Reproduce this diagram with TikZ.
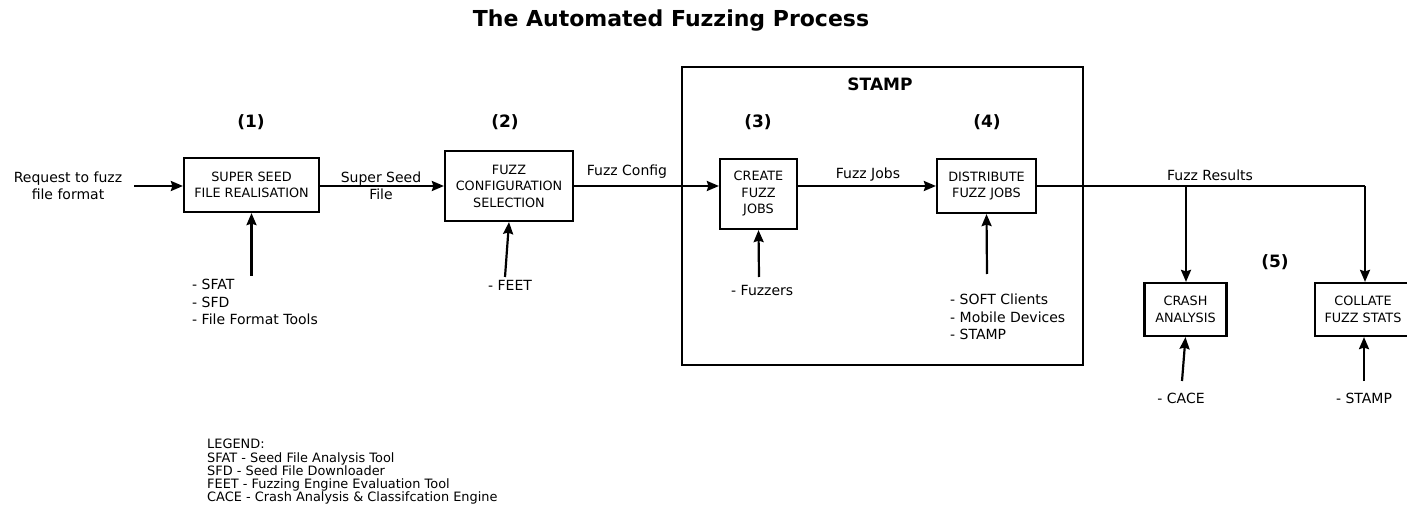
\documentclass[tikz,border=0pt]{standalone}
\usepackage{fontspec}
\setmainfont{DejaVu Sans}
\usetikzlibrary{arrows.meta}
\begin{document}
\begin{tikzpicture}[x=1pt,y=-1pt,
  stepbox/.style={draw,line width=2.2pt,align=center,inner sep=0pt,font=\fontsize{12.8}{16.5}\selectfont},
  flow/.style={line width=2.2pt,-{Stealth[length=12pt,width=10pt,inset=1.5pt]}},
  wire/.style={line width=2.2pt},
  lbl/.style={align=center,inner sep=0pt,font=\fontsize{14}{17}\selectfont},
  tools/.style={align=left,inner sep=0pt,anchor=west,font=\fontsize{14}{17.5}\selectfont},
  stage/.style={inner sep=0pt,font=\bfseries\fontsize{17}{20}\selectfont}]
\useasboundingbox (0,0) rectangle (1407,518);

% title
\node[inner sep=0pt,font=\bfseries\fontsize{22}{26}\selectfont] (title) at (671,21) {The Automated Fuzzing Process};

% STAMP container
\node[draw,line width=2.2pt,minimum width=401pt,minimum height=298pt,inner sep=0pt] (stamp) at (882.5,216) {};
\node[stage] (stamptitle) at (880,84) {STAMP};

% process steps
\node[stepbox,minimum width=135pt,minimum height=54pt] (seed) at (251.5,185) {SUPER SEED\\FILE REALISATION};
\node[stepbox,minimum width=128pt,minimum height=70pt] (config) at (509,186) {FUZZ\\CONFIGURATION\\SELECTION};
\node[stepbox,minimum width=77pt,minimum height=70pt] (create) at (758.5,194) {CREATE\\FUZZ\\JOBS};
\node[stepbox,minimum width=99pt,minimum height=54pt] (distribute) at (986.5,186) {DISTRIBUTE\\FUZZ JOBS};
\node[stepbox,minimum width=82pt,minimum height=53pt] (crash) at (1185.5,309.5) {CRASH\\ANALYSIS};
\node[stepbox,minimum width=96pt,minimum height=53pt] (collate) at (1363,309.5) {COLLATE\\FUZZ STATS};

% stage numbers
\node[stage] (s1) at (251,122) {(1)};
\node[stage] (s2) at (505,122) {(2)};
\node[stage] (s3) at (758,122) {(3)};
\node[stage] (s4) at (987,122) {(4)};
\node[stage] (s5) at (1275,262) {(5)};

% main flow
\coordinate (req) at (134,186);
\node[lbl] (reqtext) at (68,186) {Request to fuzz\\file format};
\draw[flow] (req) -- (req -| seed.west);
\draw[flow] (seed.east |- config.west) -- (config.west);
\node[lbl] (seedout) at (381,186) {Super Seed\\File};
\draw[flow] (config.east) -- (config.east -| create.west);
\node[lbl] (configout) at (627,172) {Fuzz Config};
\draw[flow] (distribute.west -| create.east) -- (distribute.west);
\node[lbl] (jobsout) at (868,175) {Fuzz Jobs};

% results fan-out
\coordinate (split) at (1186,186);
\coordinate (corner) at (1365,186);
\draw[wire] (distribute.east) -- (corner);
\draw[flow] (corner) -- (corner |- collate.north);
\draw[flow] (split) -- (split |- crash.north);
\node[lbl] (resultsout) at (1210,175) {Fuzz Results};

% tool inputs
\coordinate (seedin) at (251.5,276);
\coordinate (configin) at (505,277);
\coordinate (createin) at (759,277);
\coordinate (distin) at (987,274);
\coordinate (crashin) at (1182,381);
\coordinate (collatein) at (1364,381);
\draw[flow] (seedin) -- (seed.south);
\draw[flow] (configin) -- (config.south);
\draw[flow] (createin) -- (create.south);
\draw[flow] (distin) -- (distribute.south);
\draw[flow] (crashin) -- (crash.south);
\draw[flow] (collatein) -- (collatein |- collate.south);

\node[tools] (seedtools) at (192,302) {- SFAT\\- SFD\\- File Format Tools};
\node[tools] (configtools) at (488,285) {- FEET};
\node[tools] (createtools) at (731,290) {- Fuzzers};
\node[tools] (disttools) at (950,317) {- SOFT Clients\\- Mobile Devices\\- STAMP};
\node[lbl] (crashtools) at (1181,398) {- CACE};
\node[lbl] (collatetools) at (1364,398) {- STAMP};

% legend
\node[align=left,anchor=north west,inner sep=0pt,font=\fontsize{12.9}{13.3}\selectfont] (legend) at (207,439)
  {LEGEND:\\SFAT - Seed File Analysis Tool\\SFD - Seed File Downloader\\FEET - Fuzzing Engine Evaluation Tool\\CACE - Crash Analysis \& Classifcation Engine};
\end{tikzpicture}
\end{document}
